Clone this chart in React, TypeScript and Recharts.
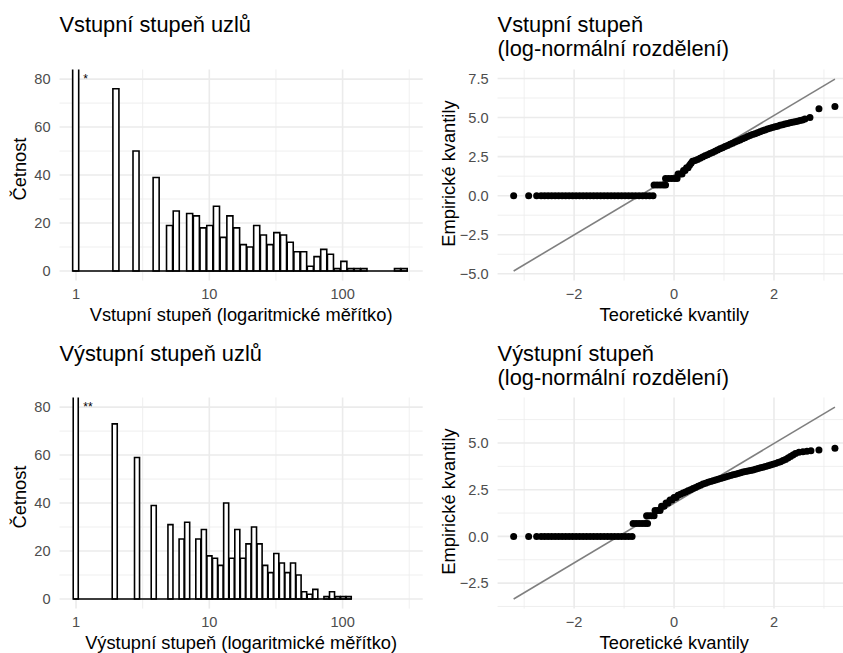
import React from "react";
import {
  Bar,
  BarChart,
  CartesianGrid,
  ReferenceDot,
  ReferenceLine,
  Scatter,
  ScatterChart,
  XAxis,
  YAxis,
} from "recharts";

const FONT = '"Liberation Sans", Arial, Helvetica, sans-serif';
const GRID = "#ebebeb";
const TICK = "#4d4d4d";

// histogram counts per bin, bins are equal steps of log10(degree), bin 0 = degree 1
const inDegreeCounts = [
  305, 0, 0, 0, 0, 0, 76, 0, 0, 50, 0, 0, 39, 0, 19, 25, 0, 24, 23, 18, 19, 27,
  14, 23, 18, 11, 10, 19, 15, 11, 16, 15, 12, 8, 8, 2, 6, 9, 7, 1, 4, 1, 1, 1, 0,
  0, 0, 0, 1, 1,
];
const inBinWidth = 0.0503;

const outDegreeCounts = [
  163, 0, 0, 0, 0, 0, 0, 73, 0, 0, 0, 59, 0, 0, 39, 0, 0, 31, 0, 25, 32, 0, 25,
  29, 18, 17, 14, 40, 17, 29, 17, 23, 30, 23, 14, 11, 19, 15, 11, 15, 10, 3, 2, 4,
  0, 1, 3, 1, 1, 1,
];
const outBinWidth = 0.0418;

const histXTicks = [0, 1, 2];
const histXMinor = [0.5, 1.5, 2.5];
const histYTicks = [0, 20, 40, 60, 80];
const histYMinor = [10, 30, 50, 70];

// Q-Q points: [theoretical quantile, ln(degree)]
const inQqPoints: [number, number][] = [
  [-3.21, 0], [-2.91, 0], [-2.75, 0], [-2.66, 0], [-2.59, 0], [-2.52, 0], [-2.45, 0],
  [-2.38, 0], [-2.31, 0], [-2.24, 0], [-2.17, 0], [-2.1, 0], [-2.03, 0], [-1.96, 0],
  [-1.89, 0], [-1.82, 0], [-1.75, 0], [-1.68, 0], [-1.61, 0], [-1.54, 0], [-1.47, 0],
  [-1.4, 0], [-1.33, 0], [-1.26, 0], [-1.19, 0], [-1.12, 0], [-1.05, 0], [-0.98, 0],
  [-0.91, 0], [-0.84, 0], [-0.77, 0], [-0.7, 0], [-0.63, 0], [-0.56, 0], [-0.49, 0],
  [-0.42, 0],
  [-0.4, 0.69], [-0.34, 0.69], [-0.28, 0.69], [-0.22, 0.69], [-0.17, 0.69],
  [-0.17, 1.1], [-0.11, 1.1], [-0.05, 1.1], [0.01, 1.1], [0.06, 1.1],
  [0.08, 1.39], [0.12, 1.39], [0.16, 1.39],
  [0.19, 1.61], [0.22, 1.61], [0.25, 1.79], [0.28, 1.79], [0.31, 1.95], [0.34, 2.08],
  [0.37, 2.2], [0.42, 2.25], [0.47, 2.32], [0.52, 2.4], [0.57, 2.48], [0.62, 2.55],
  [0.67, 2.62], [0.72, 2.7], [0.77, 2.77], [0.82, 2.84], [0.87, 2.92], [0.92, 3.0],
  [0.97, 3.07], [1.02, 3.14], [1.07, 3.21], [1.12, 3.29], [1.17, 3.36], [1.22, 3.43],
  [1.27, 3.5], [1.32, 3.57], [1.37, 3.64], [1.42, 3.71], [1.47, 3.78], [1.52, 3.85],
  [1.57, 3.91], [1.62, 3.97], [1.67, 4.03], [1.72, 4.09], [1.77, 4.15], [1.82, 4.2],
  [1.87, 4.26], [1.92, 4.31], [1.97, 4.36], [2.02, 4.41], [2.07, 4.45], [2.12, 4.5],
  [2.17, 4.54], [2.22, 4.58], [2.27, 4.62], [2.32, 4.66], [2.37, 4.7], [2.42, 4.73],
  [2.47, 4.77], [2.52, 4.81], [2.57, 4.85], [2.62, 4.9], [2.72, 5.0], [2.9, 5.56],
  [3.22, 5.7],
];
const inQqLine: [number, number][] = [[-3.21, -4.82], [3.22, 7.46]];

const outQqPoints: [number, number][] = [
  [-3.21, 0], [-2.91, 0], [-2.75, 0], [-2.66, 0], [-2.59, 0], [-2.52, 0], [-2.45, 0],
  [-2.38, 0], [-2.31, 0], [-2.24, 0], [-2.17, 0], [-2.1, 0], [-2.03, 0], [-1.96, 0],
  [-1.89, 0], [-1.82, 0], [-1.75, 0], [-1.68, 0], [-1.61, 0], [-1.54, 0], [-1.47, 0],
  [-1.4, 0], [-1.33, 0], [-1.26, 0], [-1.19, 0], [-1.12, 0], [-1.05, 0], [-0.98, 0],
  [-0.91, 0], [-0.84, 0],
  [-0.82, 0.69], [-0.76, 0.69], [-0.7, 0.69], [-0.64, 0.69], [-0.58, 0.69], [-0.53, 0.69],
  [-0.55, 1.1], [-0.5, 1.1], [-0.45, 1.1], [-0.4, 1.1],
  [-0.38, 1.39], [-0.33, 1.39], [-0.28, 1.39],
  [-0.25, 1.61], [-0.2, 1.61], [-0.16, 1.79], [-0.12, 1.79], [-0.08, 1.95], [-0.04, 1.95],
  [0, 2.08], [0.04, 2.08],
  [0.08, 2.2], [0.13, 2.26], [0.18, 2.32], [0.23, 2.38], [0.28, 2.44], [0.33, 2.5],
  [0.38, 2.56], [0.43, 2.62], [0.48, 2.68], [0.53, 2.74], [0.58, 2.8], [0.63, 2.85],
  [0.68, 2.9], [0.73, 2.94], [0.78, 2.98], [0.83, 3.02], [0.88, 3.06], [0.93, 3.1],
  [0.98, 3.14], [1.03, 3.18], [1.08, 3.22], [1.13, 3.26], [1.18, 3.3], [1.23, 3.33],
  [1.28, 3.37], [1.33, 3.4], [1.38, 3.44], [1.43, 3.47], [1.48, 3.5], [1.53, 3.53],
  [1.58, 3.56], [1.63, 3.6], [1.68, 3.63], [1.73, 3.67], [1.78, 3.7], [1.83, 3.74],
  [1.88, 3.78], [1.93, 3.82], [1.98, 3.86], [2.03, 3.9], [2.08, 3.95], [2.13, 4.0],
  [2.18, 4.06], [2.23, 4.12], [2.28, 4.2], [2.33, 4.28], [2.38, 4.36], [2.43, 4.44],
  [2.5, 4.5], [2.58, 4.53], [2.66, 4.56], [2.74, 4.58], [2.9, 4.63], [3.22, 4.72],
];
const outQqLine: [number, number][] = [[-3.21, -3.35], [3.22, 6.92]];

const qqXTicks = [-2, 0, 2];
const qqXMinor = [-3, -1, 1, 3];
const inQqYTicks = [-5, -2.5, 0, 2.5, 5, 7.5];
const outQqYTicks = [-2.5, 0, 2.5, 5];
const qqYMinor = [-3.75, -1.25, 1.25, 3.75, 6.25];

// layout
const CH_W = 440;
const CH_H = 340;
const TOP = 69.5;
const X_AXIS_H = 59.4;
const PLOT_H = CH_H - TOP - X_AXIS_H;
const HIST_Y_W = 59.5;
const HIST_RIGHT = 17.3;
const QQ_Y_W = 77.6;
const QQ_RIGHT = 9;
const HIST_X: [number, number] = [-0.1239, 2.601];

const tickStyle = { fill: TICK, fontSize: 14.6, fontFamily: FONT };
const minus = (s: string) => s.replace("-", "\u2212");

// axis titles placed from the fixed plot box
function xTitle(text: string, left: number, right: number) {
  return () => (
    <text
      x={left + (CH_W - left - right) / 2}
      y={TOP + PLOT_H + 40.5}
      textAnchor="middle"
      fontSize={18.3}
      fontFamily={FONT}
      fill="#000"
    >
      {text}
    </text>
  );
}

function yTitle(text: string, bx: number, dy = 0) {
  return () => {
    const y = TOP + PLOT_H / 2 + dy;
    return (
      <text
        x={bx}
        y={y}
        transform={`rotate(-90 ${bx} ${y})`}
        textAnchor="middle"
        fontSize={18.3}
        fontFamily={FONT}
        fill="#000"
      >
        {text}
      </text>
    );
  };
}

function noteLabel(text: string) {
  return (p: any) => {
    const vb = p.viewBox;
    return (
      <text x={vb.x} y={vb.y} fontSize={12} fontFamily={FONT} fill="#000">
        {text}
      </text>
    );
  };
}

function Histogram({
  counts,
  binWidth,
  xLabel,
  note,
}: {
  counts: number[];
  binWidth: number;
  xLabel: string;
  note: string;
}) {
  const rows = counts.map((n, k) => ({ x: k * binWidth, n }));
  const plotW = CH_W - HIST_Y_W - HIST_RIGHT;
  const barPx = (binWidth * plotW) / (HIST_X[1] - HIST_X[0]);
  return (
    <BarChart
      width={CH_W}
      height={CH_H}
      data={rows}
      margin={{ top: TOP, right: HIST_RIGHT, left: 0, bottom: 0 }}
    >
      <CartesianGrid
        verticalValues={histXMinor}
        horizontalValues={histYMinor}
        stroke={GRID}
        strokeWidth={0.8}
      />
      <CartesianGrid
        verticalValues={histXTicks}
        horizontalValues={histYTicks}
        stroke={GRID}
        strokeWidth={1.6}
      />
      <XAxis
        type="number"
        dataKey="x"
        domain={HIST_X}
        allowDataOverflow
        ticks={histXTicks}
        tickFormatter={(v: number) => String(Math.round(10 ** v))}
        axisLine={false}
        tickLine={false}
        height={X_AXIS_H}
        tick={tickStyle}
        label={xTitle(xLabel, HIST_Y_W, HIST_RIGHT)}
      />
      <YAxis
        type="number"
        domain={[-4, 84]}
        allowDataOverflow
        ticks={histYTicks}
        axisLine={false}
        tickLine={false}
        tickMargin={3}
        width={HIST_Y_W}
        tick={tickStyle}
        label={yTitle("Četnost", 26.5, -6)}
      />
      <Bar
        dataKey="n"
        fill="#ffffff"
        stroke="#000000"
        strokeWidth={1.6}
        barSize={barPx}
        isAnimationActive={false}
      />
      <ReferenceLine
        segment={[
          { x: -binWidth / 2, y: 0 },
          { x: (counts.length - 0.5) * binWidth, y: 0 },
        ]}
        stroke="#000000"
        strokeWidth={1.6}
      />
      <ReferenceDot
        x={0.055}
        y={78.5}
        r={0}
        fill="none"
        stroke="none"
        label={noteLabel(note)}
      />
    </BarChart>
  );
}

function QQPlot({
  points,
  line,
  yTicks,
}: {
  points: [number, number][];
  line: [number, number][];
  yTicks: number[];
}) {
  const rows = points.map(([t, e]) => ({ t, e }));
  const lo = line[0][1];
  const hi = line[1][1];
  const pad = (hi - lo) * 0.05;
  const xs = points.map((p) => p[0]);
  const xlo = Math.min(...xs);
  const xhi = Math.max(...xs);
  const xpad = (xhi - xlo) * 0.05;
  return (
    <ScatterChart
      width={CH_W}
      height={CH_H}
      margin={{ top: TOP, right: QQ_RIGHT, left: 0, bottom: 0 }}
    >
      <CartesianGrid
        verticalValues={qqXMinor}
        horizontalValues={qqYMinor}
        stroke={GRID}
        strokeWidth={0.8}
      />
      <CartesianGrid
        verticalValues={qqXTicks}
        horizontalValues={yTicks}
        stroke={GRID}
        strokeWidth={1.6}
      />
      <XAxis
        type="number"
        dataKey="t"
        domain={[xlo - xpad, xhi + xpad]}
        allowDataOverflow
        ticks={qqXTicks}
        tickFormatter={(v: number) => minus(String(v))}
        axisLine={false}
        tickLine={false}
        height={X_AXIS_H}
        tick={tickStyle}
        label={xTitle("Teoretické kvantily", QQ_Y_W, QQ_RIGHT)}
      />
      <YAxis
        type="number"
        dataKey="e"
        domain={[lo - pad, hi + pad]}
        allowDataOverflow
        ticks={yTicks}
        tickFormatter={(v: number) => minus(v.toFixed(1))}
        axisLine={false}
        tickLine={false}
        tickMargin={3}
        width={QQ_Y_W}
        tick={tickStyle}
        label={yTitle("Empirické kvantily", 35, -1.5)}
      />
      <Scatter
        data={rows}
        isAnimationActive={false}
        shape={(p: any) => <circle cx={p.cx} cy={p.cy} r={3.5} fill="#000000" />}
      />
      <ReferenceLine
        segment={[
          { x: line[0][0], y: line[0][1] },
          { x: line[1][0], y: line[1][1] },
        ]}
        stroke="#7f7f7f"
        strokeWidth={1.6}
      />
    </ScatterChart>
  );
}

const titleStyle = { fontFamily: FONT, fontSize: 21.8, fill: "#000" };

export default function App() {
  return (
    <div
      style={{
        position: "absolute",
        left: 0,
        top: 0,
        width: 843,
        height: 653,
        overflow: "hidden",
        background: "#ffffff",
      }}
    >
      <div style={{ position: "absolute", left: 0, top: 0 }}>
        <Histogram
          counts={inDegreeCounts}
          binWidth={inBinWidth}
          xLabel="Vstupní stupeň (logaritmické měřítko)"
          note="*"
        />
      </div>
      <div style={{ position: "absolute", left: 420, top: 0 }}>
        <QQPlot points={inQqPoints} line={inQqLine} yTicks={inQqYTicks} />
      </div>
      <div style={{ position: "absolute", left: 0, top: 328.3 }}>
        <Histogram
          counts={outDegreeCounts}
          binWidth={outBinWidth}
          xLabel="Výstupní stupeň (logaritmické měřítko)"
          note="**"
        />
      </div>
      <div style={{ position: "absolute", left: 420, top: 328.3 }}>
        <QQPlot points={outQqPoints} line={outQqLine} yTicks={outQqYTicks} />
      </div>
      <svg
        width={843}
        height={653}
        style={{ position: "absolute", left: 0, top: 0, pointerEvents: "none" }}
      >
        <text x={59.5} y={32} {...titleStyle}>Vstupní stupeň uzlů</text>
        <text x={497.6} y={32} {...titleStyle}>Vstupní stupeň</text>
        <text x={497.6} y={56} {...titleStyle}>(log-normální rozdělení)</text>
        <text x={59.5} y={360.5} {...titleStyle}>Výstupní stupeň uzlů</text>
        <text x={497.6} y={360.5} {...titleStyle}>Výstupní stupeň</text>
        <text x={497.6} y={384.5} {...titleStyle}>(log-normální rozdělení)</text>
      </svg>
    </div>
  );
}
